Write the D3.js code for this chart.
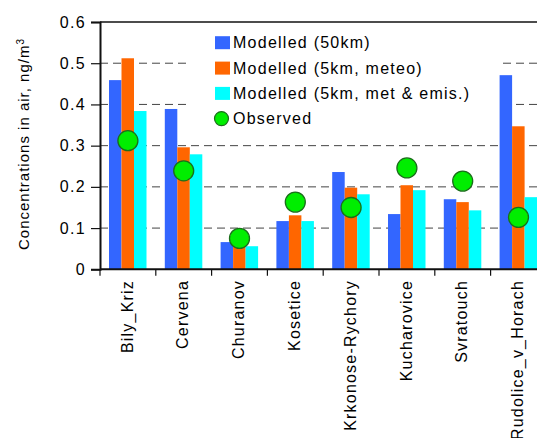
<!DOCTYPE html>
<html>
<head>
<meta charset="utf-8">
<script src="https://cdn.jsdelivr.net/npm/d3@7"></script>
<style>
  html, body { margin: 0; padding: 0; background: #fff; }
  svg text { font-family: "Liberation Sans", Arial, sans-serif; fill: #000; }
</style>
</head>
<body>
<svg id="chart" width="537" height="438"></svg>
<script>
// Measuring stations
const stations = ["Bily_Kriz", "Cervena", "Churanov", "Kosetice", "Krkonose-Rychory",
                  "Kucharovice", "Svratouch", "Rudolice_v_Horach"];

// Modelled concentrations (ng/m3)
const modelled50km   = [0.459, 0.389, 0.066, 0.117, 0.236, 0.134, 0.170, 0.471];
const modelled5kmMet = [0.512, 0.296, 0.072, 0.131, 0.198, 0.204, 0.163, 0.347];
const modelled5kmEms = [0.384, 0.279, 0.056, 0.117, 0.182, 0.192, 0.143, 0.175];

// Observed concentrations (ng/m3)
const observed = [0.312, 0.239, 0.075, 0.163, 0.150, 0.246, 0.214, 0.126];

const seriesNames = ["Modelled (50km)", "Modelled (5km, meteo)", "Modelled (5km, met & emis.)"];
const seriesColors = ["#3366ff", "#ff6600", "#00ffff"];
const observedName = "Observed";
const yTicks = [0, 0.1, 0.2, 0.3, 0.4, 0.5, 0.6];

const svg = d3.select("#chart");
const plotLeft = 100, plotTop = 22, plotBottom = 269.3, step = 55.8;
const plotRight = plotLeft + step * stations.length;

const x = d3.scaleBand().domain(stations).range([plotLeft, plotRight]).padding(0);
const xs = d3.scaleBand().domain(d3.range(3)).range([9, 46.5]).padding(0);
const y = d3.scaleLinear().domain([0, 0.6]).range([plotBottom, plotTop]);

// dashed grid lines
svg.append("g").selectAll("line")
  .data(yTicks.filter(t => t > 0 && t < 0.6))
  .join("line")
  .attr("x1", plotLeft).attr("x2", plotRight)
  .attr("y1", d => y(d)).attr("y2", d => y(d))
  .attr("stroke", "#444").attr("stroke-width", 1)
  .attr("stroke-dasharray", "8,5");

// legend background hides the grid behind it
svg.append("rect")
  .attr("x", 186).attr("y", 28).attr("width", 312).attr("height", 104)
  .attr("fill", "#fff");

// bars
const series = [modelled50km, modelled5kmMet, modelled5kmEms];
series.forEach((vals, si) => {
  svg.append("g").selectAll("rect")
    .data(vals)
    .join("rect")
    .attr("x", (d, i) => x(stations[i]) + xs(si))
    .attr("width", xs.bandwidth())
    .attr("y", d => y(d))
    .attr("height", d => y(0) - y(d))
    .attr("fill", seriesColors[si]);
});

// observed markers
svg.append("g").selectAll("circle")
  .data(observed)
  .join("circle")
  .attr("cx", (d, i) => x(stations[i]) + x.bandwidth() / 2)
  .attr("cy", d => y(d))
  .attr("r", 10)
  .attr("fill", "#00ee00")
  .attr("stroke", "#1a6e1a").attr("stroke-width", 1.3);

// top frame line
svg.append("line")
  .attr("x1", plotLeft).attr("x2", plotRight).attr("y1", plotTop).attr("y2", plotTop)
  .attr("stroke", "#111").attr("stroke-width", 1.5);

// y axis
const yAxis = d3.axisLeft(y).tickValues(yTicks).tickSize(9).tickPadding(5)
  .tickFormat(d => d === 0 ? "0" : d3.format(".1f")(d));
const gy = svg.append("g").attr("transform", `translate(${plotLeft},0)`).call(yAxis);
gy.select(".domain").attr("stroke", "#111").attr("stroke-width", 2);
gy.selectAll(".tick line").attr("stroke", "#111").attr("stroke-width", 1.2);
gy.selectAll(".tick text")
  .attr("font-size", 16).style("letter-spacing", "1.3px")
  .attr("font-family", "Liberation Sans, Arial, sans-serif").attr("fill", "#000");

// x axis with ticks at category boundaries
const gx = svg.append("g");
gx.append("line")
  .attr("x1", plotLeft).attr("x2", plotRight).attr("y1", plotBottom).attr("y2", plotBottom)
  .attr("stroke", "#111").attr("stroke-width", 2);
gx.selectAll("line.cat")
  .data(d3.range(stations.length + 1))
  .join("line").attr("class", "cat")
  .attr("x1", i => plotLeft + i * step).attr("x2", i => plotLeft + i * step)
  .attr("y1", plotBottom).attr("y2", plotBottom + 6.5)
  .attr("stroke", "#111").attr("stroke-width", 1.2);
gx.selectAll("text")
  .data(stations)
  .join("text")
  .attr("transform", d => `translate(${x(d) + x.bandwidth() / 2 - 1},280) rotate(-90)`)
  .attr("text-anchor", "end")
  .attr("dy", "0.35em")
  .attr("font-size", 16).style("letter-spacing", "1.2px")
  .text(d => d);

// y axis title
const yt = svg.append("text")
  .attr("transform", "translate(29,144) rotate(-90)")
  .attr("text-anchor", "middle")
  .attr("font-size", 15).style("letter-spacing", "1px");
yt.append("tspan").text("Concentrations in air, ng/m");
yt.append("tspan").attr("dy", "-0.55em").attr("font-size", 10).text("3");

// legend
const lg = svg.append("g");
const rowY = [42.7, 68.1, 93.4, 118.6];
seriesNames.forEach((name, i) => {
  lg.append("rect")
    .attr("x", 215).attr("y", rowY[i] - 6.5).attr("width", 15).attr("height", 13)
    .attr("fill", seriesColors[i]);
  lg.append("text")
    .attr("x", 233).attr("y", rowY[i]).attr("dy", "0.35em")
    .attr("font-size", 16).style("letter-spacing", "1.25px")
    .text(name);
});
lg.append("circle")
  .attr("cx", 221.5).attr("cy", rowY[3]).attr("r", 7)
  .attr("fill", "#00ee00").attr("stroke", "#1a6e1a").attr("stroke-width", 1.2);
lg.append("text")
  .attr("x", 233).attr("y", rowY[3]).attr("dy", "0.35em")
  .attr("font-size", 16).style("letter-spacing", "1.25px")
  .text(observedName);
</script>
</body>
</html>
